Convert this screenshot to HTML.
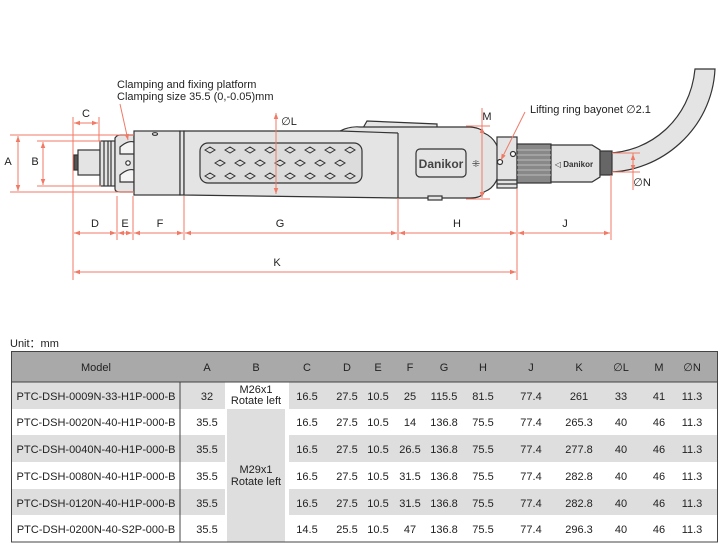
<!DOCTYPE html>
<html><head><meta charset="utf-8"><style>
html,body{margin:0;padding:0;background:#fff;}
body{width:723px;height:550px;position:relative;overflow:hidden;font-family:"Liberation Sans",sans-serif;}
svg{position:absolute;left:0;top:0;}
</style></head><body>
<svg width="723" height="550" viewBox="0 0 723 550" font-family="Liberation Sans, DejaVu Sans, sans-serif">
<defs>
<marker id="ar" viewBox="0 0 8 6" refX="8" refY="3" markerWidth="6" markerHeight="5" orient="auto-start-reverse"><path d="M0,0 L8,3 L0,6 Z" fill="#f07a66"/></marker>
</defs>
<path d="M608,153 C650,152 690,120 695,69 L715,69 C712,130 660,172 608,172 Z" fill="#e4e4e4" stroke="#333" stroke-width="1.2"/>
<g stroke="#333" stroke-width="1.2" fill="#e4e4e4">
<rect x="74" y="155" width="5" height="15" fill="#555"/>
<rect x="78" y="150" width="22" height="25"/>
<rect x="100" y="141" width="15" height="45"/>
<line x1="104" y1="141" x2="104" y2="186"/><line x1="108" y1="141" x2="108" y2="186"/><line x1="111" y1="141" x2="111" y2="186"/>
<path d="M115,138 Q117,135 120,135 L134,135 L134,192 L120,192 Q115,192 115,189 Z"/>
<path d="M120,147 Q128,140 134,142 L134,154 L120,154 Z" fill="#f4f4f4"/>
<path d="M120,175 Q128,168 134,170 L134,182 L120,182 Z" fill="#f4f4f4"/>
<circle cx="128" cy="163" r="2.2" fill="#fff"/>
<rect x="134" y="131" width="46" height="64"/>
<ellipse cx="155" cy="134" rx="2.5" ry="1.3" fill="#fff"/>
<rect x="180" y="131" width="4" height="64"/>
<path d="M363,128 L367,121 L437,124 L437,130 Z"/>
<path d="M184,131 L340,131 Q350,126 360,127 L470,127 Q482,128 484,133 Q500,140 500,162 Q500,186 484,192 Q482,198 470,198 L398,198 L184,195 Z"/>
<line x1="340" y1="131" x2="398" y2="133"/>
<line x1="398" y1="133" x2="398" y2="198"/>
<rect x="428" y="196" width="14" height="4"/>
<rect x="200" y="143" width="162" height="40" rx="8" fill="#dcdcdc"/>
<rect x="416" y="149" width="50" height="28" rx="4" fill="#e4e4e4"/>
<rect x="497" y="137" width="20" height="51"/>
<line x1="497" y1="180" x2="517" y2="180"/><line x1="497" y1="184" x2="517" y2="184"/>
<circle cx="500" cy="162" r="2.5" fill="#fff"/>
<circle cx="513" cy="154" r="2.5" fill="#fff"/>
<rect x="517" y="144" width="34" height="39" fill="#888"/>
<path d="M551,145 L592,145 L600,150 L600,177 L592,182 L551,182 Z"/>
<rect x="600" y="151" width="12" height="24" fill="#666"/>
</g>
<g stroke="#bbb" stroke-width="1">
<line x1="517" y1="150" x2="551" y2="150"/><line x1="517" y1="155" x2="551" y2="155"/><line x1="517" y1="160" x2="551" y2="160"/><line x1="517" y1="165" x2="551" y2="165"/><line x1="517" y1="170" x2="551" y2="170"/><line x1="517" y1="175" x2="551" y2="175"/>
</g>
<g fill="none" stroke="#333" stroke-width="1">
<path d="M205,150 l5,-3 l5,3 l-5,3 z M225,150 l5,-3 l5,3 l-5,3 z M245,150 l5,-3 l5,3 l-5,3 z M265,150 l5,-3 l5,3 l-5,3 z M285,150 l5,-3 l5,3 l-5,3 z M305,150 l5,-3 l5,3 l-5,3 z M325,150 l5,-3 l5,3 l-5,3 z M345,150 l5,-3 l5,3 l-5,3 z"/>
<path d="M215,163 l5,-3 l5,3 l-5,3 z M235,163 l5,-3 l5,3 l-5,3 z M255,163 l5,-3 l5,3 l-5,3 z M275,163 l5,-3 l5,3 l-5,3 z M295,163 l5,-3 l5,3 l-5,3 z M315,163 l5,-3 l5,3 l-5,3 z M335,163 l5,-3 l5,3 l-5,3 z"/>
<path d="M205,176 l5,-3 l5,3 l-5,3 z M225,176 l5,-3 l5,3 l-5,3 z M245,176 l5,-3 l5,3 l-5,3 z M265,176 l5,-3 l5,3 l-5,3 z M285,176 l5,-3 l5,3 l-5,3 z M305,176 l5,-3 l5,3 l-5,3 z M325,176 l5,-3 l5,3 l-5,3 z M345,176 l5,-3 l5,3 l-5,3 z"/>
</g>
<text x="441" y="168" font-size="12" font-weight="bold" text-anchor="middle" fill="#444">Danikor</text>
<text x="476" y="167" font-size="10" fill="#444" text-anchor="middle">⁜</text>
<text x="574" y="167" font-size="8" font-weight="bold" text-anchor="middle" fill="#333">◁ Danikor</text>
<g stroke="#f07a66" stroke-width="1" fill="none">
<line x1="10" y1="135" x2="134" y2="135"/><line x1="10" y1="192" x2="134" y2="192"/>
<line x1="37" y1="141" x2="101" y2="141"/><line x1="37" y1="186" x2="101" y2="186"/>
<line x1="18" y1="136" x2="18" y2="191" marker-start="url(#ar)" marker-end="url(#ar)"/>
<line x1="43" y1="142" x2="43" y2="185" marker-start="url(#ar)" marker-end="url(#ar)"/>
<line x1="73" y1="117" x2="73" y2="280"/><line x1="99" y1="117" x2="99" y2="141"/>
<line x1="74" y1="123" x2="98" y2="123" marker-start="url(#ar)" marker-end="url(#ar)"/>
<line x1="117" y1="196" x2="117" y2="240"/><line x1="133" y1="196" x2="133" y2="240"/><line x1="184" y1="196" x2="184" y2="240"/>
<line x1="398" y1="198" x2="398" y2="240"/><line x1="517" y1="189" x2="517" y2="280"/><line x1="611" y1="175" x2="611" y2="240"/>
<line x1="74" y1="233" x2="116" y2="233" marker-start="url(#ar)" marker-end="url(#ar)"/>
<line x1="118" y1="233" x2="132" y2="233" marker-start="url(#ar)" marker-end="url(#ar)"/>
<line x1="134" y1="233" x2="183" y2="233" marker-start="url(#ar)" marker-end="url(#ar)"/>
<line x1="185" y1="233" x2="397" y2="233" marker-start="url(#ar)" marker-end="url(#ar)"/>
<line x1="399" y1="233" x2="516" y2="233" marker-start="url(#ar)" marker-end="url(#ar)"/>
<line x1="518" y1="233" x2="610" y2="233" marker-start="url(#ar)" marker-end="url(#ar)"/>
<line x1="74" y1="272" x2="516" y2="272" marker-start="url(#ar)" marker-end="url(#ar)"/>
<line x1="276" y1="113" x2="276" y2="194" marker-start="url(#ar)" marker-end="url(#ar)"/>
<line x1="466" y1="126" x2="490" y2="126"/><line x1="466" y1="199" x2="490" y2="199"/>
<line x1="482" y1="108" x2="482" y2="198" marker-end="url(#ar)"/>
<line x1="482" y1="127" x2="482" y2="130" marker-start="url(#ar)"/>
<line x1="612" y1="153" x2="640" y2="153"/><line x1="612" y1="172" x2="640" y2="172"/>
<line x1="633" y1="153" x2="633" y2="190"/>
<line x1="633" y1="154" x2="633" y2="171" marker-start="url(#ar)" marker-end="url(#ar)"/>
<line x1="120" y1="104" x2="128" y2="140" marker-end="url(#ar)"/>
<line x1="525" y1="112" x2="501" y2="160" marker-end="url(#ar)"/>
</g>
<g font-size="11" fill="#222" text-anchor="middle">
<text x="8" y="165">A</text><text x="35" y="165">B</text><text x="86" y="117">C</text>
<text x="95" y="227">D</text><text x="125" y="227">E</text><text x="160" y="227">F</text>
<text x="280" y="227">G</text><text x="457" y="227">H</text><text x="565" y="227">J</text>
<text x="277" y="266">K</text>
<text x="289" y="125">∅L</text><text x="487" y="120">M</text><text x="642" y="186">∅N</text>
</g>
<g font-size="11" fill="#222">
<text x="117" y="88">Clamping and fixing platform</text>
<text x="117" y="100">Clamping size 35.5 (0,-0.05)mm</text>
<text x="530" y="113">Lifting ring bayonet ∅2.1</text>
<text x="10" y="347">Unit：mm</text>
</g>
<rect x="11" y="351" width="707" height="31" fill="#a9a9a9"/>
<rect x="11" y="382" width="707" height="27" fill="#dedede"/>
<rect x="11" y="435" width="707" height="27" fill="#dedede"/>
<rect x="11" y="489" width="707" height="26" fill="#dedede"/>
<rect x="225" y="382" width="64" height="160" fill="#fff"/>
<rect x="227" y="382" width="58" height="27" fill="#fff"/>
<rect x="227" y="409" width="58" height="27" fill="#dedede"/>
<rect x="227" y="435" width="58" height="28" fill="#dedede"/>
<rect x="227" y="462" width="58" height="28" fill="#dedede"/>
<rect x="227" y="489" width="58" height="27" fill="#dedede"/>
<rect x="227" y="515" width="58" height="27" fill="#dedede"/>
<line x1="11" y1="382" x2="718" y2="382" stroke="#444" stroke-width="1"/>
<rect x="11.5" y="351.5" width="706" height="190.5" fill="none" stroke="#444" stroke-width="1"/>
<line x1="180" y1="382" x2="180" y2="542" stroke="#444" stroke-width="1"/>
<g font-size="11" fill="#222" text-anchor="middle">
<text x="96" y="371">Model</text><text x="207" y="371">A</text><text x="256" y="371">B</text><text x="307" y="371">C</text><text x="347" y="371">D</text><text x="378" y="371">E</text><text x="410" y="371">F</text><text x="444" y="371">G</text><text x="483" y="371">H</text><text x="531" y="371">J</text><text x="579" y="371">K</text><text x="621" y="371">∅L</text><text x="659" y="371">M</text><text x="692" y="371">∅N</text>
<text x="256" y="393">M26x1</text><text x="256" y="404">Rotate left</text>
<text x="256" y="473">M29x1</text><text x="256" y="485">Rotate left</text>
</g>
<g font-size="11" fill="#222" text-anchor="middle">
<g transform="translate(0,400)"><text x="96">PTC-DSH-0009N-33-H1P-000-B</text><text x="207">32</text><text x="307">16.5</text><text x="347">27.5</text><text x="378">10.5</text><text x="410">25</text><text x="444">115.5</text><text x="483">81.5</text><text x="531">77.4</text><text x="579">261</text><text x="621">33</text><text x="659">41</text><text x="692">11.3</text></g>
<g transform="translate(0,426)"><text x="96">PTC-DSH-0020N-40-H1P-000-B</text><text x="207">35.5</text><text x="307">16.5</text><text x="347">27.5</text><text x="378">10.5</text><text x="410">14</text><text x="444">136.8</text><text x="483">75.5</text><text x="531">77.4</text><text x="579">265.3</text><text x="621">40</text><text x="659">46</text><text x="692">11.3</text></g>
<g transform="translate(0,453)"><text x="96">PTC-DSH-0040N-40-H1P-000-B</text><text x="207">35.5</text><text x="307">16.5</text><text x="347">27.5</text><text x="378">10.5</text><text x="410">26.5</text><text x="444">136.8</text><text x="483">75.5</text><text x="531">77.4</text><text x="579">277.8</text><text x="621">40</text><text x="659">46</text><text x="692">11.3</text></g>
<g transform="translate(0,480)"><text x="96">PTC-DSH-0080N-40-H1P-000-B</text><text x="207">35.5</text><text x="307">16.5</text><text x="347">27.5</text><text x="378">10.5</text><text x="410">31.5</text><text x="444">136.8</text><text x="483">75.5</text><text x="531">77.4</text><text x="579">282.8</text><text x="621">40</text><text x="659">46</text><text x="692">11.3</text></g>
<g transform="translate(0,507)"><text x="96">PTC-DSH-0120N-40-H1P-000-B</text><text x="207">35.5</text><text x="307">16.5</text><text x="347">27.5</text><text x="378">10.5</text><text x="410">31.5</text><text x="444">136.8</text><text x="483">75.5</text><text x="531">77.4</text><text x="579">282.8</text><text x="621">40</text><text x="659">46</text><text x="692">11.3</text></g>
<g transform="translate(0,533)"><text x="96">PTC-DSH-0200N-40-S2P-000-B</text><text x="207">35.5</text><text x="307">14.5</text><text x="347">25.5</text><text x="378">10.5</text><text x="410">47</text><text x="444">136.8</text><text x="483">75.5</text><text x="531">77.4</text><text x="579">296.3</text><text x="621">40</text><text x="659">46</text><text x="692">11.3</text></g>
</g>
</svg>
</body></html>
